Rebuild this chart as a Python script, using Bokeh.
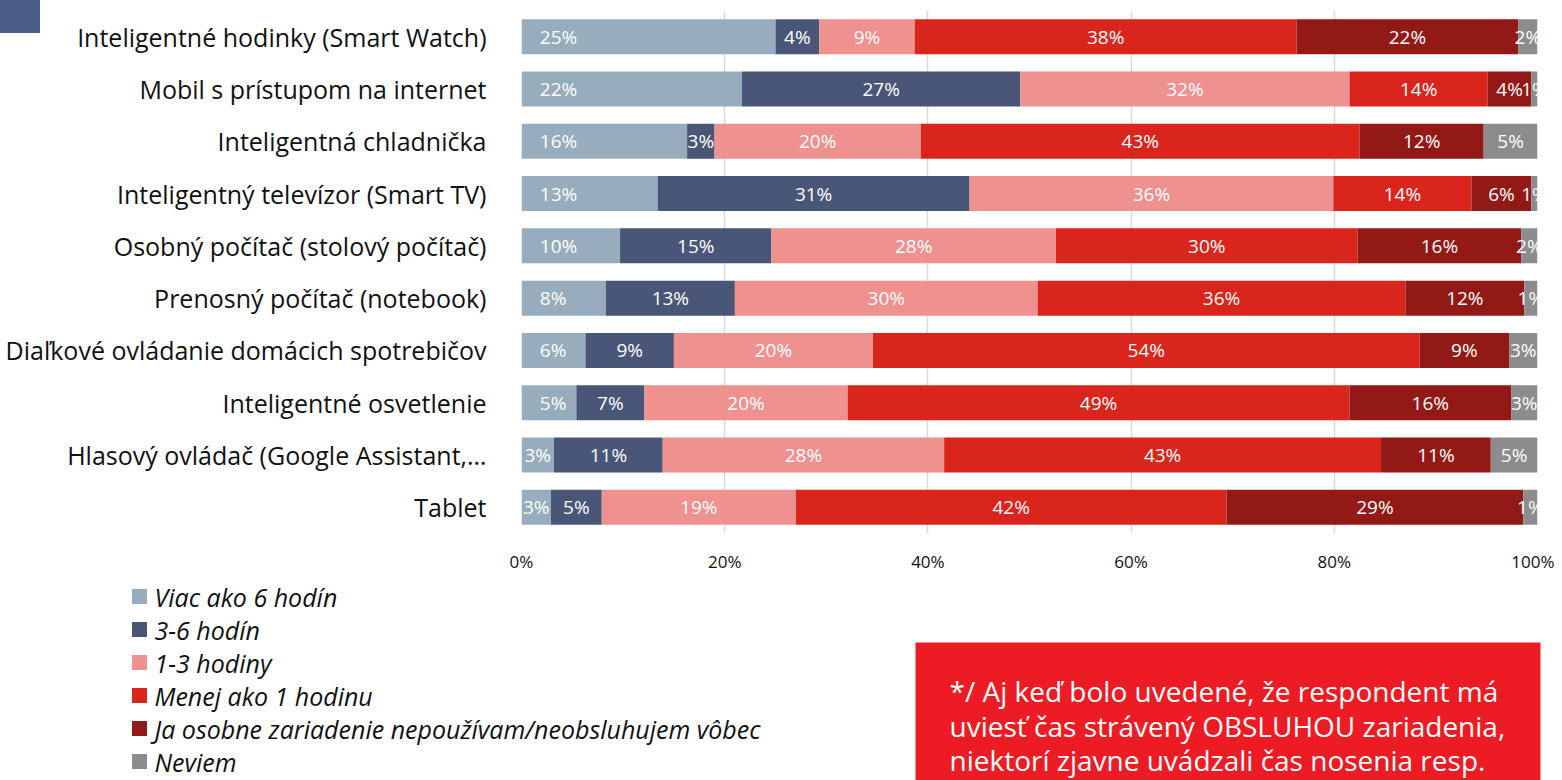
from bokeh.plotting import figure
from bokeh.models import ColumnDataSource, FactorRange, Range1d, PrintfTickFormatter, FixedTicker, Div
from bokeh.layouts import column
from bokeh.core.properties import value
from bokeh.embed import file_html
from bokeh.resources import INLINE

# ---------------- data ----------------
categories = [
    "Inteligentné hodinky (Smart Watch)",
    "Mobil s prístupom na internet",
    "Inteligentná chladnička",
    "Inteligentný televízor (Smart TV)",
    "Osobný počítač (stolový počítač)",
    "Prenosný počítač (notebook)",
    "Diaľkové ovládanie domácich spotrebičov",
    "Inteligentné osvetlenie",
    "Hlasový ovládač (Google Assistant,…",
    "Tablet",
]
series_names = [
    "Viac ako 6 hodín",
    "3-6 hodín",
    "1-3 hodiny",
    "Menej ako 1 hodinu",
    "Ja osobne zariadenie nepoužívam/neobsluhujem vôbec",
    "Neviem",
]
viac_ako_6 = [25.0, 21.7, 16.3, 13.4, 9.7, 8.3, 6.3, 5.4, 3.2, 2.9]
hodin_3_6 = [4.3, 27.4, 2.7, 30.7, 14.9, 12.7, 8.7, 6.7, 10.7, 5.0]
hodiny_1_3 = [9.4, 32.4, 20.3, 35.8, 28.0, 29.8, 19.6, 20.0, 27.7, 19.1]
menej_ako_1 = [37.6, 13.6, 43.2, 13.6, 29.7, 36.2, 53.8, 49.4, 43.0, 42.4]
nepouzivam = [21.8, 4.3, 12.2, 5.9, 16.1, 11.7, 8.8, 15.9, 10.8, 29.2]
neviem = [1.9, 0.6, 5.3, 0.6, 1.6, 1.3, 2.8, 2.6, 4.6, 1.4]
x_ticks = [0, 20, 40, 60, 80, 100]
note_lines = [
    "*/ Aj keď bolo uvedené, že respondent má",
    "uviesť čas strávený OBSLUHOU zariadenia,",
    "niektorí zjavne uvádzali čas nosenia resp.",
]

colors = ["#97ADBD", "#4A5677", "#EE918F", "#DA251D", "#921915", "#8C8C8C"]
series_values = [viac_ako_6, hodin_3_6, hodiny_1_3, menej_ako_1, nepouzivam, neviem]
keys = ["s0", "s1", "s2", "s3", "s4", "s5"]

FONT = "Open Sans"
TXT = "#111111"

# ---------------- top figure: bars ----------------
W = 1554
H1 = 580
p = figure(
    width=W, height=H1,
    y_range=FactorRange(factors=list(reversed(categories))),
    x_range=Range1d(0, 100),
    output_backend="svg", toolbar_location=None,
    min_border_left=521, min_border_right=17, min_border_top=10, min_border_bottom=47,
)
p.outline_line_color = None
p.background_fill_color = "white"
p.border_fill_color = "white"

data = {"cat": categories}
for k, vals in zip(keys, series_values):
    data[k] = vals
src = ColumnDataSource(data)
p.hbar_stack(keys, y="cat", height=0.67, color=colors, source=src, line_color=None)

# labels inside segments
lx_c, ly_c, lt_c = [], [], []
lx_l, ly_l, lt_l = [], [], []
for i, cat in enumerate(categories):
    start = 0.0
    for j, vals in enumerate(series_values):
        v = vals[i]
        txt = f"{v:.0f}%"
        if j == 0 and v >= 5:
            lx_l.append(start + 1.8); ly_l.append(cat); lt_l.append(txt)
        else:
            lx_c.append(start + v / 2); ly_c.append(cat); lt_c.append(txt)
        start += v

common = dict(text_color="white", text_font=value(FONT), text_font_size="19px",
              text_baseline="middle")
p.text(x=lx_c, y=ly_c, text=lt_c, text_align="center", **common)
p.text(x=lx_l, y=ly_l, text=lt_l, text_align="left", **common)

p.xgrid.ticker = FixedTicker(ticks=x_ticks)
p.xgrid.grid_line_color = "#D9D9D9"
p.xgrid.grid_line_width = 1.5
p.ygrid.grid_line_color = None

xa = p.xaxis[0]
xa.ticker = FixedTicker(ticks=x_ticks)
xa.formatter = PrintfTickFormatter(format="%d%%")
xa.axis_line_color = None
xa.major_tick_line_color = None
xa.minor_tick_line_color = None
xa.major_label_text_font = FONT
xa.major_label_text_font_size = "17px"
xa.major_label_text_color = TXT
xa.major_label_standoff = 10

ya = p.yaxis[0]
ya.axis_line_color = None
ya.major_tick_line_color = None
ya.minor_tick_line_color = None
ya.major_label_text_font = FONT
ya.major_label_text_font_size = "25px"
ya.major_label_text_color = TXT
ya.major_label_standoff = 29

# ---------------- bottom figure: legend + note ----------------
H2 = 200
p2 = figure(
    width=W, height=H2,
    x_range=Range1d(0, W), y_range=Range1d(H2, 0),
    output_backend="svg", toolbar_location=None,
    min_border=0,
)
p2.axis.visible = False
p2.grid.visible = False
p2.outline_line_color = None

for fig in (p, p2):
    try:
        fig.frame_align = False
    except Exception:
        pass

leg_y = [16 + 33 * i for i in range(len(series_names))]
p2.scatter(x=[139] * len(series_names), y=leg_y, marker="square", size=15,
           color=colors, line_color=None)
p2.text(x=[154] * len(series_names), y=leg_y, text=series_names,
        text_font=value(FONT), text_font_style="italic", text_font_size="25px",
        text_baseline="middle", text_align="left", text_color=TXT)

p2.quad(left=[915], right=[1540], top=[62], bottom=[260], color="#ED1C24", line_color=None)
note_y = [110, 145, 179]
p2.text(x=[949] * len(note_lines), y=note_y, text=note_lines,
        text_font=value(FONT), text_font_size="28px", text_color="white",
        text_baseline="middle", text_align="left")

corner = Div(text="", width=40, height=33, margin=(0, 0, 0, 0),
             styles={"position": "fixed", "left": "0px", "top": "0px",
                     "width": "40px", "height": "33px", "margin": "0px",
                     "background-color": "#4A5E8C", "z-index": "10"})

layout = column(p, p2, corner, spacing=0)
open("out.html", "w").write(file_html(layout, INLINE))
